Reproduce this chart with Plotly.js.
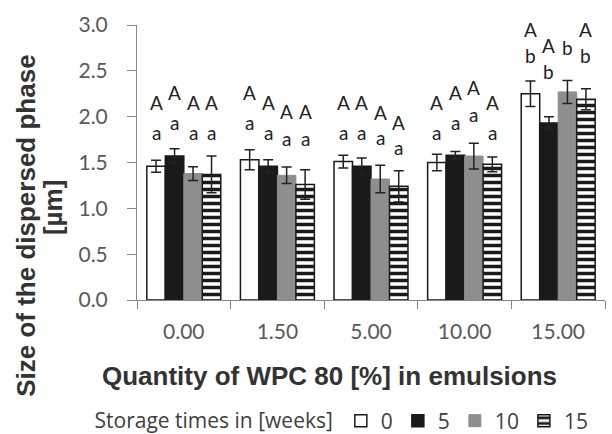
<!DOCTYPE html>
<html>
<head>
<meta charset="utf-8">
<script src="https://cdn.plot.ly/plotly-3.0.1.min.js"></script>
<style>
  html, body { margin: 0; padding: 0; background: #ffffff; }
  #chart { width: 612px; height: 434px; }
</style>
</head>
<body>
<div id="chart"></div>
<script>
// Categories (WPC 80 quantity, %)
const categories = ['0.00', '1.50', '5.00', '10.00', '15.00'];
// Storage times (weeks)
const seriesNames = ['0', '5', '10', '15'];

// Mean size of the dispersed phase [µm]
const week0  = [1.46, 1.53, 1.51, 1.50, 2.25];
const week5  = [1.57, 1.46, 1.46, 1.58, 1.93];
const week10 = [1.38, 1.36, 1.32, 1.57, 2.27];
const week15 = [1.37, 1.26, 1.24, 1.48, 2.19];

// Error bars (±)
const err0  = [0.065, 0.11, 0.07, 0.09, 0.14];
const err5  = [0.08, 0.07, 0.09, 0.04, 0.07];
const err10 = [0.075, 0.09, 0.15, 0.14, 0.125];
const err15 = [0.20, 0.16, 0.17, 0.08, 0.115];

// Significance letters (per category, per storage time)
const upperLetters = [
  ['A', 'A', 'A', 'A'],
  ['A', 'A', 'A', 'A'],
  ['A', 'A', 'A', 'A'],
  ['A', 'A', 'A', 'A'],
  ['A', 'A', 'A', 'A']
];
const lowerLetters = [
  ['a', 'a', 'a', 'a'],
  ['a', 'a', 'a', 'a'],
  ['a', 'a', 'a', 'a'],
  ['a', 'a', 'a', 'a'],
  ['b', 'b', 'b', 'b']
];
// Heights (in µm, axis units) at which the letters are printed
const upperLetterY = [
  [2.15, 2.26, 2.15, 2.15],
  [2.26, 2.15, 2.06, 2.06],
  [2.15, 2.15, 2.05, 1.94],
  [2.15, 2.26, 2.32, 2.15],
  [2.95, 2.78, 3.06, 2.95]
];
const lowerLetterY = [
  [1.83, 1.94, 1.83, 1.83],
  [1.94, 1.83, 1.76, 1.76],
  [1.83, 1.83, 1.77, 1.66],
  [1.83, 1.94, 2.02, 1.83],
  [2.67, 2.49, 2.76, 2.67]
];

const yTicks = [0, 0.5, 1.0, 1.5, 2.0, 2.5, 3.0];

const values = [week0, week5, week10, week15];
const errors = [err0, err5, err10, err15];

const styles = [
  { color: '#ffffff', line: { color: '#1a1a1a', width: 1.5 } },
  { color: '#1a1a1a', line: { color: '#1a1a1a', width: 1.5 } },
  { color: '#8e8e8e', line: { color: '#8e8e8e', width: 1 } },
  { color: '#ffffff', line: { color: '#1a1a1a', width: 1.5 },
    pattern: { shape: '-', fgcolor: '#1a1a1a', bgcolor: '#ffffff', size: 7, solidity: 0.5, fillmode: 'replace' } }
];

const traces = values.map((v, i) => ({
  type: 'bar',
  name: seriesNames[i],
  x: categories,
  y: v,
  marker: styles[i],
  error_y: { type: 'data', array: errors[i], visible: true, color: '#222222', thickness: 1.5, width: 5 },
  hoverinfo: 'skip'
}));

const bargap = 0.21;
const barW = (1 - bargap) / seriesNames.length;
const annotations = [];
const letterFont = { family: 'Lato, "Open Sans", sans-serif', size: 19, color: '#222222' };
categories.forEach((c, ci) => {
  seriesNames.forEach((s, si) => {
    const xpos = ci + (si - (seriesNames.length - 1) / 2) * barW;
    annotations.push({ x: xpos, y: upperLetterY[ci][si], xref: 'x', yref: 'y', text: upperLetters[ci][si],
      showarrow: false, font: letterFont, xanchor: 'center', yanchor: 'middle' });
    annotations.push({ x: xpos, y: lowerLetterY[ci][si], xref: 'x', yref: 'y', text: lowerLetters[ci][si],
      showarrow: false, font: letterFont, xanchor: 'center', yanchor: 'middle' });
  });
});

const titleFont = { family: '"Liberation Sans", Arial, sans-serif', size: 26, color: '#333333' };
annotations.push({ xref: 'paper', yref: 'paper', x: 0.411, y: -0.276, text: '<b>Quantity of WPC 80 [%] in emulsions</b>',
  showarrow: false, font: titleFont, xanchor: 'center', yanchor: 'middle' });
annotations.push({ xref: 'paper', yref: 'paper', x: -0.237, y: 0.27, text: '<b>Size of the dispersed phase</b>',
  showarrow: false, font: titleFont, textangle: -90, xanchor: 'center', yanchor: 'middle' });
annotations.push({ xref: 'paper', yref: 'paper', x: -0.179, y: 0.335, text: '<b>[µm]</b>',
  showarrow: false, font: titleFont, textangle: -90, xanchor: 'center', yanchor: 'middle' });

const tickFont = { family: 'Lato, "Open Sans", sans-serif', size: 21, color: '#595959' };
const legendFont = { family: '"Open Sans", Lato, sans-serif', size: 21, color: '#404040' };

const layout = {
  width: 612,
  height: 434,
  margin: { l: 137, r: 7, t: 25, b: 134, autoexpand: false },
  paper_bgcolor: '#ffffff',
  plot_bgcolor: '#ffffff',
  barmode: 'group',
  bargap: bargap,
  bargroupgap: 0,
  showlegend: true,
  legend: {
    orientation: 'h',
    x: -0.095, xanchor: 'left',
    y: -0.44, yanchor: 'middle',
    title: { text: 'Storage times in [weeks]', side: 'left', font: legendFont },
    font: legendFont,
    itemwidth: 30,
    bgcolor: 'rgba(0,0,0,0)',
    traceorder: 'normal'
  },
  xaxis: {
    type: 'category',
    categoryorder: 'array',
    categoryarray: categories,
    range: [-0.5, categories.length - 0.5],
    showline: true,
    linecolor: '#868686',
    linewidth: 1,
    ticks: 'outside',
    tickson: 'boundaries',
    ticklen: 8,
    tickcolor: '#868686',
    tickfont: tickFont,
    ticklabelstandoff: 13,
    automargin: false,
    showgrid: false,
    zeroline: false,
    fixedrange: true
  },
  yaxis: {
    range: [0, 3],
    tickvals: yTicks,
    ticktext: yTicks.map(v => v.toFixed(1)),
    showline: true,
    linecolor: '#868686',
    linewidth: 1,
    ticks: 'outside',
    ticklen: 9,
    tickcolor: '#868686',
    tickfont: tickFont,
    ticklabelstandoff: 15,
    automargin: false,
    showgrid: false,
    zeroline: false,
    fixedrange: true
  },
  annotations: annotations,
  hovermode: false
};

Plotly.newPlot('chart', traces, layout, { displayModeBar: false, staticPlot: true });
</script>
</body>
</html>
